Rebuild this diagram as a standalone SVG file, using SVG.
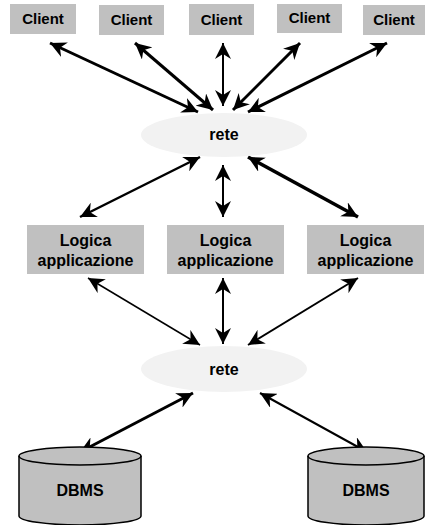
<svg xmlns="http://www.w3.org/2000/svg" width="425" height="525" viewBox="0 0 425 525">
<style>
.box{fill:#c0c0c0}
.net{fill:#f2f2f2}
.cyl{fill:#c0c0c0;stroke:#000;stroke-width:1.5}
text{font-family:"Liberation Sans",Arial,sans-serif;font-weight:bold;fill:#000;text-anchor:middle}
.t15{font-size:15px}
.t16{font-size:16px}
.c line{stroke:#000;marker-start:url(#ah);marker-end:url(#ah)}
</style>
<defs>
<marker id="ah" markerUnits="userSpaceOnUse" markerWidth="17" markerHeight="16" refX="16" refY="8" orient="auto-start-reverse" viewBox="0 0 17 16">
<path d="M0,0 L16,8 L0,16 L5,8 z" fill="#000"/>
</marker>
</defs>
<g class="c" id="connectors">
<line x1="50" y1="43" x2="198" y2="112" stroke-width="3"/>
<line x1="135" y1="43" x2="213" y2="110" stroke-width="3"/>
<line x1="223" y1="43" x2="223" y2="106" stroke-width="2"/>
<line x1="300" y1="43" x2="233" y2="110" stroke-width="3"/>
<line x1="387" y1="43" x2="248" y2="112" stroke-width="3"/>
<line x1="200" y1="157" x2="80" y2="217" stroke-width="2.5"/>
<line x1="223" y1="165" x2="223" y2="217" stroke-width="2"/>
<line x1="248" y1="157" x2="358" y2="217" stroke-width="3.5"/>
<line x1="88" y1="278" x2="200" y2="345" stroke-width="1.5"/>
<line x1="223" y1="278" x2="223" y2="344" stroke-width="2"/>
<line x1="358" y1="278" x2="248" y2="345" stroke-width="2"/>
<line x1="193" y1="393" x2="80" y2="452" stroke-width="3"/>
<line x1="260" y1="393" x2="367" y2="452" stroke-width="2"/>
</g>
<g id="client1"><rect class="box" x="10" y="4" width="66" height="30"/><text class="t15" x="43" y="24">Client</text></g>
<g id="client2"><rect class="box" x="99" y="5" width="65" height="30"/><text class="t15" x="131.5" y="25">Client</text></g>
<g id="client3"><rect class="box" x="189" y="4" width="65" height="31"/><text class="t15" x="221.5" y="25">Client</text></g>
<g id="client4"><rect class="box" x="277" y="4" width="65" height="29"/><text class="t15" x="309.5" y="23">Client</text></g>
<g id="client5"><rect class="box" x="363" y="5" width="62" height="30"/><text class="t15" x="394" y="25">Client</text></g>
<g id="rete1"><ellipse class="net" cx="224" cy="135" rx="83" ry="22"/><text class="t16" x="224" y="140">rete</text></g>
<g id="logica1"><rect class="box" x="27" y="225" width="117" height="49"/><text class="t16" x="85.5" y="246">Logica</text><text class="t16" x="85.5" y="266">applicazione</text></g>
<g id="logica2"><rect class="box" x="167" y="225" width="117" height="49"/><text class="t16" x="225.5" y="246">Logica</text><text class="t16" x="225.5" y="266">applicazione</text></g>
<g id="logica3"><rect class="box" x="307" y="225" width="117" height="49"/><text class="t16" x="365.5" y="246">Logica</text><text class="t16" x="365.5" y="266">applicazione</text></g>
<g id="rete2"><ellipse class="net" cx="224" cy="369" rx="83" ry="23"/><text class="t16" x="224" y="375">rete</text></g>
<g id="dbms1"><path class="cyl" d="M19,456 L19,516 A61,9 0 0 0 141,516 L141,456 A61,9 0 0 0 19,456 Z"/><path d="M19,456 A61,9 0 0 0 141,456" fill="none" stroke="#000" stroke-width="1.5"/><text class="t16" x="80" y="496">DBMS</text></g>
<g id="dbms2"><path class="cyl" d="M308,456 L308,516 A58,9 0 0 0 424,516 L424,456 A58,9 0 0 0 308,456 Z"/><path d="M308,456 A58,9 0 0 0 424,456" fill="none" stroke="#000" stroke-width="1.5"/><text class="t16" x="366" y="496">DBMS</text></g>
</svg>
